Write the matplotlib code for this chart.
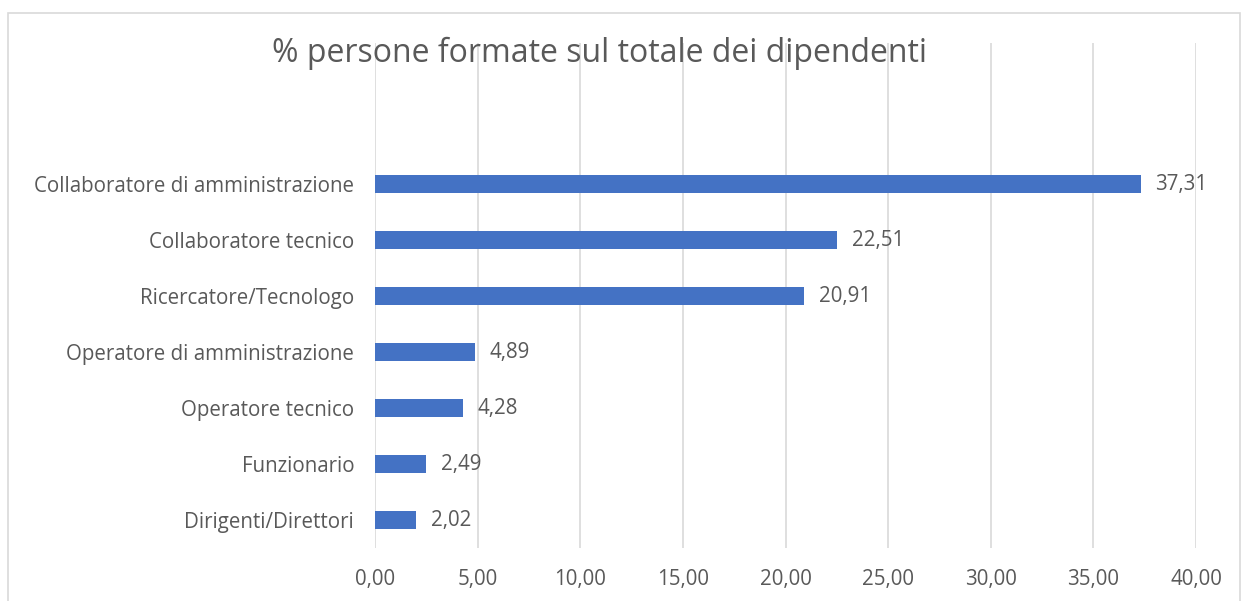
import matplotlib
matplotlib.use("Agg")
import matplotlib.pyplot as plt
from matplotlib.patches import Rectangle

categories = ["Dirigenti/Direttori", "Funzionario", "Operatore tecnico",
              "Operatore di amministrazione", "Ricercatore/Tecnologo",
              "Collaboratore tecnico", "Collaboratore di amministrazione"]
values = [2.02, 2.49, 4.28, 4.89, 20.91, 22.51, 37.31]
xticks = [0, 5, 10, 15, 20, 25, 30, 35, 40]
title = "% persone formate sul totale dei dipendenti"

plt.rcParams['font.family'] = ['Open Sans', 'DejaVu Sans']
txt = "#595959"
W, H = 1246, 601
fig = plt.figure(figsize=(W / 100, H / 100), dpi=100)

# chart border
fig.patches.append(Rectangle((8 / W, -0.05), (1240 - 8) / W, (H - 13) / H + 0.05,
                             transform=fig.transFigure, fill=False,
                             edgecolor="#d9d9d9", linewidth=1.2))

left, right = 375 / W, 1196 / W
top, bottom = 1 - 43 / H, 1 - 548 / H
ax = fig.add_axes([left, bottom, right - left, top - bottom])

y = list(range(len(categories)))
ax.barh(y, values, height=0.32, color="#4472C4", zorder=3)
for yi, v in zip(y, values):
    ax.annotate(f"{v:.2f}".replace(".", ","), (v, yi), xytext=(10.5, 0),
                textcoords="offset points", va="center", ha="left",
                fontsize=14.8, color=txt)

ax.set_xlim(0, 40)
ax.set_ylim(-0.5, 8.52)
ax.set_yticks(y)
ax.set_yticklabels(categories)
ax.set_xticks(xticks)
ax.set_xticklabels([f"{t:.2f}".replace(".", ",") for t in xticks])
ax.tick_params(axis="both", length=0, labelsize=14.8, labelcolor=txt)
ax.tick_params(axis="y", pad=15)
ax.tick_params(axis="x", pad=15)
ax.grid(axis="x", color="#d9d9d9", linewidth=1.2, zorder=0)
for s in ax.spines.values():
    s.set_visible(False)

fig.text(600 / W, 1 - 53 / H, title, ha="center", va="center",
         fontsize=23, color=txt)

fig.savefig("out.png", dpi=100)
